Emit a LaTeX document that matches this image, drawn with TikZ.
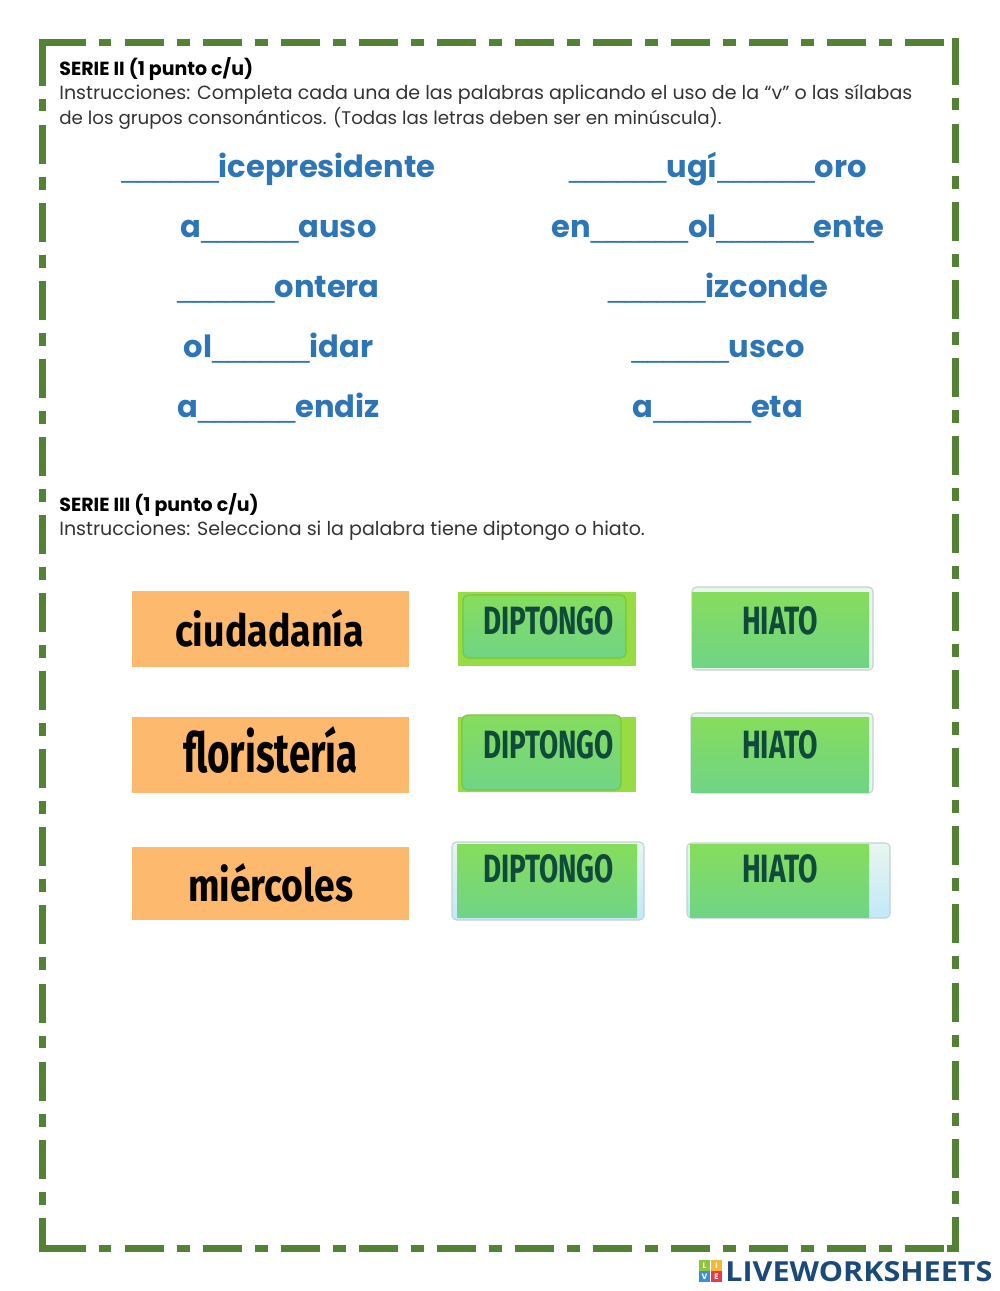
\documentclass[tikz,border=0pt]{standalone}
\usepackage{fontspec}
\usepackage{graphicx}
\usepackage{tikz}
\setmainfont{Poppins}
\newfontfamily\labelfont{Fira Sans}
\newfontfamily\logofont{Open Sans}
\newfontfamily\blankfont{Liberation Sans}
\definecolor{bordergreen}{HTML}{548235}
\definecolor{wordblue}{HTML}{2E75B6}
\definecolor{labelorange}{HTML}{FDB96E}
\definecolor{dipback}{HTML}{96DC42}
\definecolor{faceinktop}{HTML}{86DD5C}
\definecolor{faceinkbottom}{HTML}{70D486}
\definecolor{facerim}{HTML}{7CC63A}
\definecolor{framepale}{HTML}{E8F6EE}
\definecolor{framerim}{HTML}{C3D2D4}
\definecolor{stripblue}{HTML}{C2E8FA}
\definecolor{btnink}{HTML}{0F4A3A}
\definecolor{logoblue}{HTML}{1B4A7A}
\definecolor{bodyink}{HTML}{333333}
\definecolor{tilegreen}{HTML}{8CC63F}
\definecolor{tileorange}{HTML}{F7B733}
\definecolor{tileblue}{HTML}{3B8FD4}
\definecolor{tilered}{HTML}{E8394A}
\newcommand{\blanks}{{\blankfont\mdseries\fontsize{16.6pt}{18pt}\selectfont\_\_\_\_\_\_}}
\tikzset{
  borderline/.style={bordergreen,line width=3.97pt,dash pattern=on 22.22pt off 7.37pt on 7.37pt off 7.48pt,dash phase=40.14pt},
  borderstub/.style={bordergreen,line width=3.97pt},
  headnode/.style={anchor=base west,inner sep=0pt,font=\fontsize{10.8pt}{13pt}\selectfont\bfseries},
  bodynode/.style={anchor=base west,inner sep=0pt,text=bodyink,font=\fontsize{10.84pt}{13pt}\selectfont},
  wordnode/.style={anchor=base,inner sep=0pt,text=wordblue,font=\fontsize{17.4pt}{20pt}\selectfont\bfseries},
  labelnode/.style={inner sep=0pt,fill=labelorange,minimum width=5.54cm,font=\labelfont\bfseries},
  btntext/.style={inner sep=0pt,text=btnink,font=\labelfont\bfseries},
  face/.style={top color=faceinktop,bottom color=faceinkbottom},
  rimface/.style={face,draw=facerim,line width=0.6pt,rounded corners=3pt},
  pale/.style={fill=framepale,draw=framerim,line width=0.6pt,rounded corners=2.5pt},
  palestrip/.style={top color=framepale,bottom color=stripblue,draw=framerim,line width=0.6pt,rounded corners=2.5pt},
  logotile/.style={inner sep=0pt,minimum size=0.22cm,text=white,font=\fontsize{4.5pt}{5pt}\selectfont\bfseries}
}
\begin{document}
\begin{tikzpicture}[x=0.02cm,y=-0.02cm]
\useasboundingbox (0,0) rectangle (1000,1291);

\draw[borderline] (39,42.5) -- (948,42.5);
\draw[borderline] (39,1248.5) -- (948,1248.5);
\draw[borderline] (42.5,39) -- (42.5,1252);
\draw[borderline] (955.5,38) -- (955.5,1252);
\draw[borderstub] (39,42.5) -- (47,42.5);
\draw[borderstub] (39,1248.5) -- (47,1248.5);
\draw[borderstub] (42.5,39) -- (42.5,47);
\draw[borderstub] (955.5,38) -- (955.5,47);
\draw[borderstub] (947,1248.5) -- (953,1248.5);

\node[headnode] (serietwo) at (59,75.5) {SERIE II (1 punto c/u)};
\node[bodynode] (instrtwoa) at (59,100) {Instrucciones: Completa cada una de las palabras aplicando el uso de la “v” o las sílabas};
\node[bodynode,font=\fontsize{10.4pt}{13pt}\selectfont] (instrtwob) at (59,125) {de los grupos consonánticos. (Todas las letras deben ser en minúscula).};

\node[wordnode] (wordone) at (278.5,177) {\blanks icepresidente};
\node[wordnode] (wordtwo) at (278.5,237) {a\blanks auso};
\node[wordnode] (wordthree) at (278.5,297) {\blanks ontera};
\node[wordnode] (wordfour) at (278.5,357) {ol\blanks idar};
\node[wordnode] (wordfive) at (278.5,417) {a\blanks endiz};
\node[wordnode] (wordsix) at (718,177) {\blanks ugí\blanks oro};
\node[wordnode] (wordseven) at (718,237) {en\blanks ol\blanks ente};
\node[wordnode] (wordeight) at (718,297) {\blanks izconde};
\node[wordnode] (wordnine) at (718,357) {\blanks usco};
\node[wordnode] (wordten) at (718,417) {a\blanks eta};

\node[headnode] (seriethree) at (59,511.5) {SERIE III (1 punto c/u)};
\node[bodynode] (instrthree) at (59,535) {Instrucciones: Selecciona si la palabra tiene diptongo o hiato.};

\fill[labelorange] (132,591) rectangle (409,667);
\fill[labelorange] (132,717) rectangle (409,793);
\fill[labelorange] (132,847) rectangle (409,920);
\node[inner sep=0pt,font=\labelfont\bfseries] (ciudadania) at (269.5,628.5) {\resizebox{3.78cm}{0.74cm}{ciudadanía}};
\node[inner sep=0pt,font=\labelfont\bfseries] (floristeria) at (270.5,750) {\resizebox{3.5cm}{0.92cm}{floristería}};
\node[inner sep=0pt,font=\labelfont\bfseries] (miercoles) at (270.5,883) {\resizebox{3.3cm}{0.76cm}{miércoles}};

\fill[dipback] (458,592) rectangle (636,666);
\shade[rimface] (463,595) rectangle (626,658);
\fill[pale] (692,587) rectangle (873,670);
\shade[face] (692,592) rectangle (869,667);

\fill[dipback] (458,717) rectangle (636,792);
\shade[rimface] (462,715) rectangle (621,790);
\fill[pale] (691,713) rectangle (873,793);
\shade[face] (691,717) rectangle (869,792);

\shade[palestrip] (452,842) rectangle (644,920);
\shade[face] (457,844) rectangle (637,917);
\shade[palestrip] (687,843) rectangle (890,918);
\shade[face] (690,844) rectangle (869,917);

\node[btntext] (diptone) at (548.5,621) {\resizebox{2.62cm}{0.56cm}{DIPTONGO}};
\node[btntext] (hiatoone) at (780,621) {\resizebox{1.52cm}{0.56cm}{HIATO}};
\node[btntext] (dipttwo) at (548.5,745) {\resizebox{2.62cm}{0.56cm}{DIPTONGO}};
\node[btntext] (hiatotwo) at (780,745) {\resizebox{1.52cm}{0.56cm}{HIATO}};
\node[btntext] (diptthree) at (548.5,869) {\resizebox{2.62cm}{0.56cm}{DIPTONGO}};
\node[btntext] (hiatothree) at (780,869) {\resizebox{1.52cm}{0.56cm}{HIATO}};

\node[logotile,fill=tilegreen] (tilel) at (704.5,1265.5) {L};
\node[logotile,fill=tileorange] (tilei) at (716.5,1265.5) {I};
\node[logotile,fill=tileblue] (tilev) at (704.5,1276.5) {V};
\node[logotile,fill=tilered] (tilee) at (716.5,1276.5) {E};
\node[inner sep=0pt,anchor=base west,text=logoblue,font=\logofont\bfseries] (logo) at (725,1281) {\resizebox{5.34cm}{0.4cm}{LIVEWORKSHEETS}};

\end{tikzpicture}
\end{document}
